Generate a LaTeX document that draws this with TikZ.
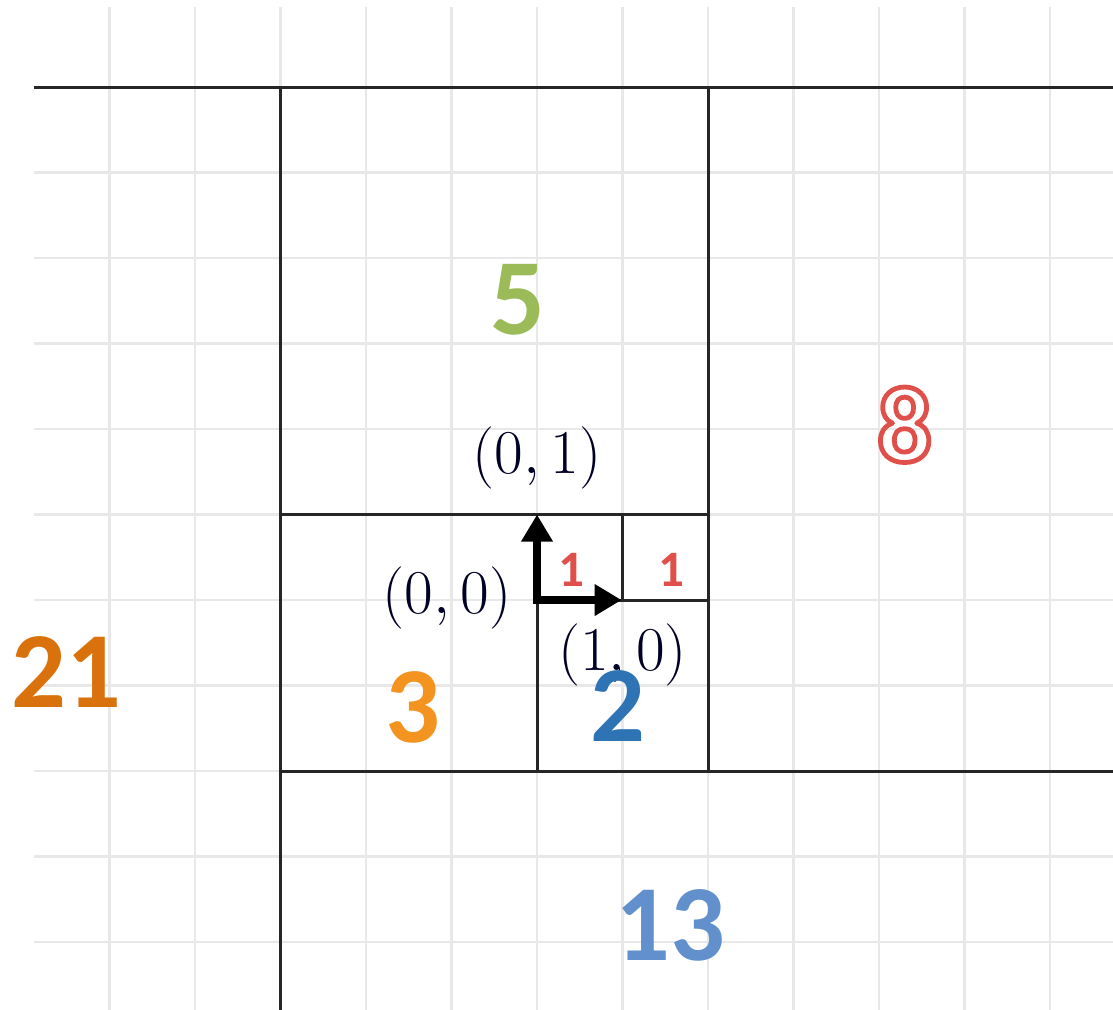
\documentclass[tikz,border=0pt]{standalone}
\usepackage{fontspec}
\usetikzlibrary{arrows.meta}
\newfontfamily\digitfont{Carlito}
\definecolor{fibgreen}{HTML}{9BBB59}
\definecolor{fibred}{HTML}{E0504A}
\definecolor{fiborange}{HTML}{D9720C}
\definecolor{fiblight}{HTML}{F39420}
\definecolor{fibblue}{HTML}{2E74B5}
\definecolor{fibsky}{HTML}{6290CC}
% hollow digits (text render mode)
\newcommand{\strokeon}[3]{\special{pdf:literal direct #1 Tr #3 w 1 j #2 RG}}
\newcommand{\strokeoff}{\special{pdf:literal direct 0 Tr}}

\begin{document}
\begin{tikzpicture}[x=1cm, y=1cm,
    gridline/.style={draw=black!9, line width=0.8pt},
    edge/.style={draw=black!85, line width=1pt},
    coord/.style={font=\fontsize{20.5}{24}\selectfont, text=black!85!blue, inner sep=0pt},
    fib/.style={font=\digitfont\bfseries\fontsize{36}{36}\selectfont, inner sep=0pt},
    unitlabel/.style={font=\digitfont\bfseries\fontsize{17}{17}\selectfont, inner sep=0pt},
    axis/.style={line width=2.4pt, line join=miter, {Triangle[length=9pt,width=10pt]}-{Triangle[length=9pt,width=10pt]}}]
    \useasboundingbox (-6.281,-4.795) rectangle (6.737,7.018);
    % background grid
    \foreach \i in {-5,...,6}
      \draw[gridline] (\i,-4.8) -- (\i,6.94);
    \foreach \j in {-4,...,6}
      \draw[gridline] (-5.88,\j) -- (6.74,\j);
    % fibonacci squares
    \draw[edge] (-5.88,6) -- (6.74,6);
    \draw[edge] (-3,6) -- (-3,-4.8);
    \draw[edge] (2,6) -- (2,-2);
    \draw[edge] (-3,1) -- (2,1);
    \draw[edge] (-3,-2) -- (6.74,-2);
    \draw[edge] (0,0) -- (0,-2);
    \draw[edge] (0,0) -- (2,0);
    \draw[edge] (1,1) -- (1,0);
    % unit vectors
    \coordinate (o) at (0,0);
    \coordinate (ex) at (0.99,0);
    \coordinate (ey) at (0,1);
    \draw[axis] (ey) -- (o) -- (ex);
    \node[coord] (lo) at (-1.05,0.02) {$(0,0)$};
    \node[coord] (lx) at (1.0,-0.64) {$(1,0)$};
    \node[coord] (ly) at (0,1.66) {$(0,1)$};
    % side lengths
    \node[unitlabel, text=fibred] (u1) at (0.40,0.35) {1};
    \node[unitlabel, text=fibred] (u2) at (1.57,0.35) {1};
    \node[fib, text=fibblue] (n2) at (0.95,-1.24) {2};
    \node[fib, text=fiblight] (n3) at (-1.45,-1.26) {3};
    \node[fib, text=fibgreen] (n5) at (-0.22,3.51) {5};
    \node[fib, text=fibred] (n8) at (4.30,2.05) {\strokeon{1}{0.878 0.314 0.29}{1.6}8\strokeoff};
    \node[fib, text=fibsky] (n13) at (1.56,-3.80) {13};
    \node[fib, text=fiborange] (n21) at (-5.50,-0.84) {21};
\end{tikzpicture}
\end{document}
